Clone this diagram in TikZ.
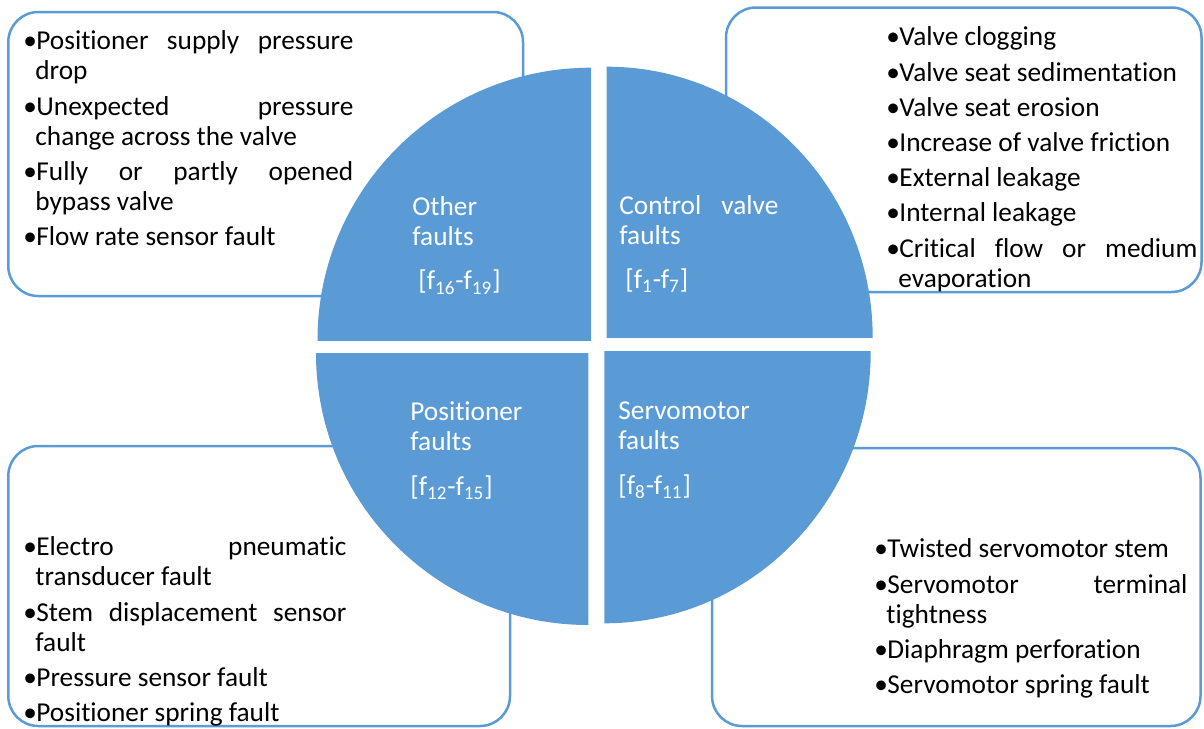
\documentclass[tikz,border=0pt]{standalone}
\usepackage{fontspec}
\setmainfont{Carlito}[Ligatures={NoCommon}]
\definecolor{qblue}{HTML}{5B9BD5}
\newlength\bulw \setlength\bulw{6.5pt}
\newlength\contw \setlength\contw{6pt}
\newcommand\bfirst[2]{\makebox[\bulw][l]{\textbullet}\makebox[#1][s]{#2}}
\newcommand\bonly[1]{\makebox[\bulw][l]{\textbullet}#1}
\newcommand\bcont[1]{\hspace*{\contw}#1}
\newcommand\fsub[1]{\textsubscript{#1}}
\tikzset{
  listbox/.style={draw=qblue, line width=1.25pt, rounded corners=15pt, fill=white},
  quad/.style={fill=qblue},
  listtext/.style={anchor=north west, inner sep=0pt, align=left,
    font=\fontsize{13.65}{15}\selectfont, text=black},
  quadtext/.style={listtext, text=white},
}
\begin{document}
\begin{tikzpicture}[x=0.5pt,y=-0.5pt]
\useasboundingbox (0,0) rectangle (1204,728);
\fill[white] (0,0) rectangle (1204,728);
% list boxes
\draw[listbox] (8.3,12) rectangle (523,296);
\draw[listbox] (726,7.5) rectangle (1201.5,292);
\draw[listbox] (8.3,446) rectangle (510,726);
\draw[listbox] (712,448) rectangle (1200.5,726);
% quadrants
\begin{scope}
  \clip (300,50) rectangle (591,340);
  \fill[quad] (591,340) ellipse [x radius=273.5, y radius=272.3];
\end{scope}
\begin{scope}
  \clip (606.7,50) rectangle (890,337.7);
  \fill[quad] (606.7,337.7) ellipse [x radius=266, y radius=271];
\end{scope}
\begin{scope}
  \clip (300,353.3) rectangle (588.3,640);
  \fill[quad] (588.3,353.3) ellipse [x radius=272.3, y radius=271.7];
\end{scope}
\begin{scope}
  \clip (604.3,351.7) rectangle (890,640);
  \fill[quad] (604.3,351.7) ellipse [x radius=266.4, y radius=271.6];
\end{scope}
% list texts
\node[listtext] (other list) at (23,28.5) {\strut\bfirst{158.5pt}{Positioner supply pressure}\\
  \bcont{drop}\\[2.6pt]
  \bfirst{158.5pt}{Unexpected pressure}\\
  \bcont{change across the valve}\\[2.6pt]
  \bfirst{158.5pt}{Fully or partly opened}\\
  \bcont{bypass valve}\\[2.6pt]
  \bonly{Flow rate sensor fault}};
\node[listtext] (valve list) at (886,24.5) {\strut\bonly{Valve clogging}\\[2.6pt]
  \bonly{Valve seat sedimentation}\\[2.6pt]
  \bonly{Valve seat erosion}\\[2.6pt]
  \bonly{Increase of valve friction}\\[2.6pt]
  \bonly{External leakage}\\[2.6pt]
  \bonly{Internal leakage}\\[2.6pt]
  \bfirst{149pt}{Critical flow or medium}\\
  \bcont{evaporation}};
\node[listtext] (positioner list) at (23,534.5) {\strut\bfirst{155pt}{Electro pneumatic}\\
  \bcont{transducer fault}\\[2.6pt]
  \bfirst{155pt}{Stem displacement sensor}\\
  \bcont{fault}\\[2.6pt]
  \bonly{Pressure sensor fault}\\[2.6pt]
  \bonly{Positioner spring fault}};
\node[listtext] (servo list) at (874,536.5) {\strut\bonly{Twisted servomotor stem}\\[2.6pt]
  \bfirst{150pt}{Servomotor terminal}\\
  \bcont{tightness}\\[2.6pt]
  \bonly{Diaphragm perforation}\\[2.6pt]
  \bonly{Servomotor spring fault}};
% quadrant labels
\node[quadtext] (other) at (412,194.5) {\strut Other\\faults\\[7pt]\hspace*{3pt}[f\fsub{16}-f\fsub{19}]};
\node[quadtext] (valve) at (619,193) {\strut\makebox[79.5pt][s]{Control valve}\\faults\\[7pt]\hspace*{3pt}[f\fsub{1}-f\fsub{7}]};
\node[quadtext] (positioner) at (410,399) {\strut Positioner\\faults\\[7.5pt][f\fsub{12}-f\fsub{15}]};
\node[quadtext] (servo) at (618,398) {\strut Servomotor\\faults\\[7.5pt][f\fsub{8}-f\fsub{11}]};
\end{tikzpicture}
\end{document}
